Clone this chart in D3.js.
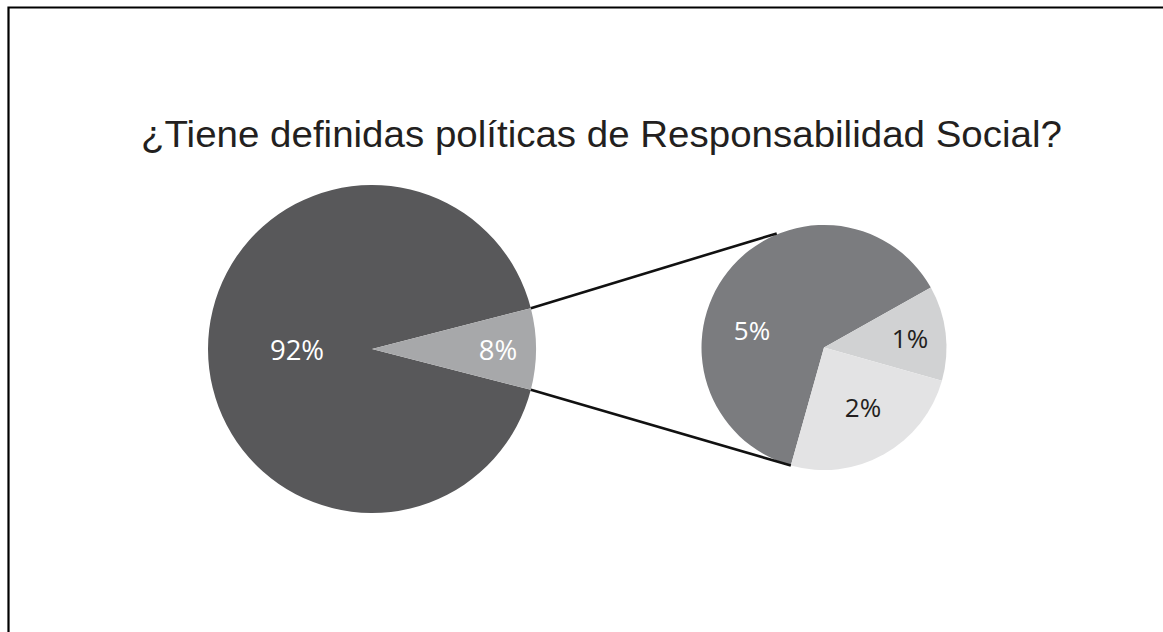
<!DOCTYPE html>
<html>
<head>
<meta charset="utf-8">
<script src="https://cdn.jsdelivr.net/npm/d3@7"></script>
<style>
  html, body { margin: 0; padding: 0; background: #ffffff; }
  svg { display: block; }
</style>
</head>
<body>
<svg id="chart" width="1163" height="632"></svg>
<script>
// Main pie: share of respondents
const mainLabels = ["92%", "8%"];
const mainValues = [92, 8];
// Breakdown of the 8% slice
const subLabels = ["5%", "1%", "2%"];
const subValues = [5, 1, 2];
const titleText = "¿Tiene definidas políticas de Responsabilidad Social?";

const svg = d3.select("#chart");
const W = 1163, H = 632;

// frame lines (top and left)
svg.append("path")
  .attr("d", `M8.5,${H} L8.5,7.5 L${W},7.5`)
  .attr("fill", "none").attr("stroke", "#000").attr("stroke-width", 2.2);

// title, fitted to its line width
const title = svg.append("text")
  .attr("x", 0).attr("y", 0)
  .attr("font-family", "'Liberation Sans', Arial, sans-serif")
  .attr("font-size", 37.5)
  .attr("fill", "#231f20")
  .text(titleText);
const tw = title.node().getComputedTextLength();
const targetW = 921;
title.attr("transform", `translate(${141},${146.5}) scale(${targetW / tw},1)`);

const deg = Math.PI / 180;

// ---- main pie ----
const mainCx = 372, mainCy = 349, mainR = 164;
const mainColors = ["#58585a", "#a7a8aa"];
const mainStart = 90 * deg + (mainValues[1] / 100) * Math.PI;
const mainPie = d3.pie().sort(null)
  .startAngle(mainStart)
  .endAngle(mainStart + 2 * Math.PI);
const mainArcs = mainPie(mainValues);
const mainArc = d3.arc().innerRadius(0).outerRadius(mainR);
const gMain = svg.append("g").attr("transform", `translate(${mainCx},${mainCy})`);
gMain.selectAll("path").data(mainArcs).join("path")
  .attr("d", mainArc)
  .attr("fill", (d, i) => mainColors[i]);

const mainLabelPos = [[-75, 11], [126, 11]];
gMain.selectAll("text").data(mainArcs).join("text")
  .attr("x", (d, i) => mainLabelPos[i][0])
  .attr("y", (d, i) => mainLabelPos[i][1])
  .attr("text-anchor", "middle")
  .attr("font-family", "'Open Sans', sans-serif")
  .attr("font-size", 27.5)
  .attr("fill", "#ffffff")
  .text((d, i) => mainLabels[i]);

// ---- secondary pie ----
const subCx = 824, subCy = 347.5, subR = 122.5;
const subColors = ["#7b7c7f", "#d1d2d3", "#e3e3e4"];
const subStart = 195.7 * deg;
const subPie = d3.pie().sort(null).startAngle(subStart).endAngle(subStart + 2 * Math.PI);
const subArcs = subPie(subValues);
const subArc = d3.arc().innerRadius(0).outerRadius(subR);
const gSub = svg.append("g").attr("transform", `translate(${subCx},${subCy})`);
gSub.selectAll("path").data(subArcs).join("path")
  .attr("d", subArc)
  .attr("fill", (d, i) => subColors[i]);

const subLabelPos = [[-72, -7.5], [86, 0.5], [39, 69]];
const subLabelColors = ["#ffffff", "#231f20", "#231f20"];
gSub.selectAll("text").data(subArcs).join("text")
  .attr("x", (d, i) => subLabelPos[i][0])
  .attr("y", (d, i) => subLabelPos[i][1])
  .attr("text-anchor", "middle")
  .attr("font-family", "'Open Sans', sans-serif")
  .attr("font-size", 26)
  .attr("fill", (d, i) => subLabelColors[i])
  .text((d, i) => subLabels[i]);

// ---- connector lines from the split slice to the breakdown pie ----
const split = mainArcs[1];
const polar = (cx, cy, r, a) => [cx + r * Math.sin(a), cy - r * Math.cos(a)];
const p1 = polar(mainCx, mainCy, mainR, split.startAngle);
const p2 = polar(mainCx, mainCy, mainR, split.endAngle);
const q1 = polar(subCx, subCy, subR + 1, -22.5 * deg);
const q2 = polar(subCx, subCy, subR, subStart);
svg.append("g")
  .selectAll("line").data([[p1, q1], [p2, q2]]).join("line")
  .attr("x1", d => d[0][0]).attr("y1", d => d[0][1])
  .attr("x2", d => d[1][0]).attr("y2", d => d[1][1])
  .attr("stroke", "#111111").attr("stroke-width", 2.6);
</script>
</body>
</html>
